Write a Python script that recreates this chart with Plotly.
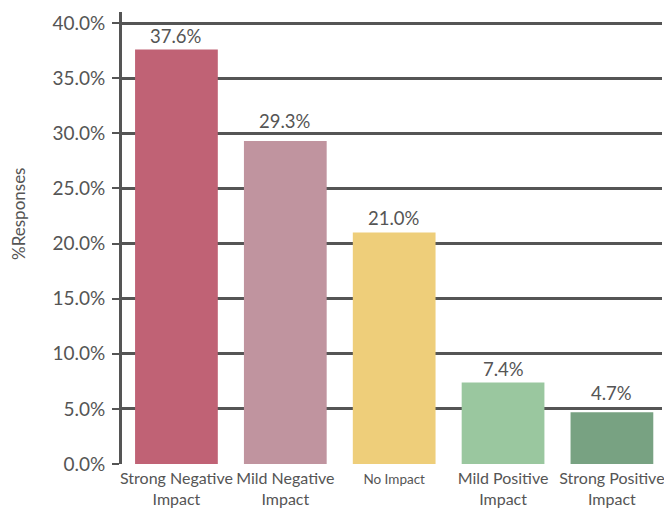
import plotly.graph_objects as go

categories = ["Strong Negative<br>Impact", "Mild Negative<br>Impact",
              "<span style='font-size:13.5px'>No Impact</span>",
              "Mild Positive<br>Impact", "Strong Positive<br>Impact"]
values = [37.6, 29.3, 21.0, 7.4, 4.7]
colors = ["#C06275", "#C0949F", "#EECE7A", "#9AC79F", "#78A282"]
y_ticks = [0, 5, 10, 15, 20, 25, 30, 35, 40]

# extra lift (px) for value labels so they clear nearby gridlines
label_lift = [0, 7, 1, 0, 6]

text_color = "#555555"
line_color = "#555555"
font_family = "Lato, 'Open Sans', sans-serif"

x_pos = list(range(len(values)))

fig = go.Figure(go.Bar(
    x=x_pos,
    y=values,
    marker=dict(color=colors, line=dict(width=0)),
    hoverinfo="y",
))

for xi, v, lift in zip(x_pos, values, label_lift):
    fig.add_annotation(
        x=xi, y=v, xref="x", yref="y",
        text=f"{v:.1f}%", showarrow=False,
        yanchor="bottom", yshift=lift,
        font=dict(size=18.5, color=text_color, family=font_family),
    )

fig.update_layout(
    width=664, height=508,
    margin=dict(l=122, r=0, t=12, b=43),
    paper_bgcolor="white", plot_bgcolor="white",
    bargap=0.24,
    showlegend=False,
    font=dict(family=font_family, color=text_color),
    xaxis=dict(
        range=[-0.5, 4.46],
        tickmode="array",
        tickvals=x_pos,
        ticktext=categories,
        tickfont=dict(size=16, color=text_color),
        showgrid=False, zeroline=False, showline=False,
        ticks="", fixedrange=True,
        ticklabelstandoff=3,
        ticklabeloverflow="allow",
    ),
    yaxis=dict(
        range=[0, 41],
        tickmode="array",
        tickvals=y_ticks,
        ticktext=[f"{t:.1f}%" for t in y_ticks],
        tickfont=dict(size=19, color=text_color),
        showgrid=True, gridcolor=line_color, gridwidth=3,
        zeroline=False,
        showline=True, linecolor=line_color, linewidth=3,
        ticks="outside", ticklen=7, tickwidth=2, tickcolor=line_color,
        ticklabelstandoff=3,
    ),
)

fig.add_annotation(
    text="%Responses", textangle=-90,
    xref="paper", yref="paper",
    x=(18 - 122) / 542, y=(465 - 214) / 453,
    xanchor="center", yanchor="middle",
    showarrow=False, font=dict(size=17, color=text_color, family=font_family),
)

fig.write_html("out.html")
